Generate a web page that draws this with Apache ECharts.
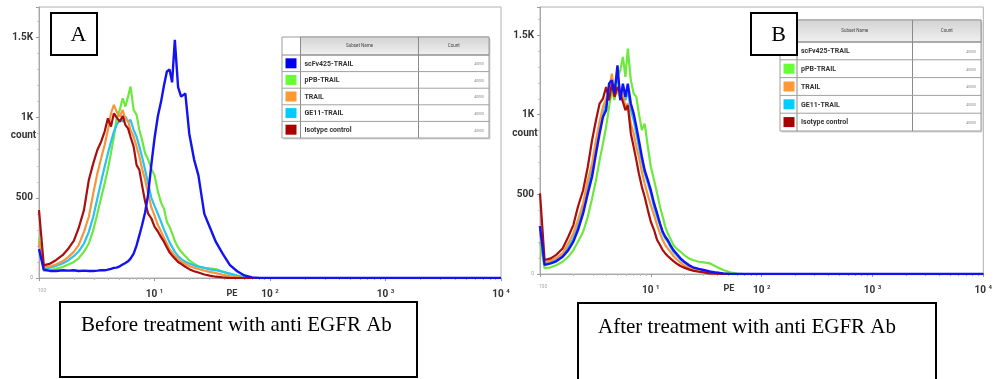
<!DOCTYPE html>
<html>
<head>
<meta charset="utf-8">
<script src="https://cdn.jsdelivr.net/npm/echarts@6/dist/echarts.min.js"></script>
<style>
  html, body { margin: 0; padding: 0; background: #fff; }
  #chart { width: 995px; height: 379px; }
</style>
</head>
<body>
<div id="chart"></div>
<script>
// PE channel (log) bins shared by both histograms
const peBins = [1, 1.1, 1.25, 1.4, 1.6, 1.8, 2, 2.2, 2.45, 2.7,
  2.95, 3.2, 3.45, 3.7, 3.95, 4.2, 4.45, 4.7, 5, 5.3,
  5.6, 5.9, 6.2, 6.6, 7, 7.4, 7.8, 8.3, 8.8, 9.4,
  10, 10.7, 11.4, 12.1, 12.8, 13.5, 14.2, 15, 16, 17,
  18.5, 20, 22, 24, 27, 30, 34, 39, 45, 52,
  60, 70, 82, 95, 10000];

const subsetNames = ['scFv425-TRAIL', 'pPB-TRAIL', 'TRAIL', 'GE11-TRAIL', 'Isotype control'];
const lineColors = ['#1212f2', '#6de83c', '#f6953d', '#28c4f0', '#a90d0d'];
const swatchColors = ['#0000ee', '#66ff33', '#ff9933', '#00ccff', '#aa0000'];
const eventCounts = [40000, 40000, 40000, 40000, 40000];
const yTickText = { 0: '0', 500: '500', 1000: '1K', 1500: '1.5K' };

// A: before treatment with anti EGFR Ab (counts per bin)
const beforeScfv = [180, 52, 44, 44, 48, 46, 48, 44, 46, 44,
  44, 46, 48, 48, 52, 57, 63, 65, 73, 84,
  94, 104, 121, 152, 204, 267, 329, 410, 520, 710,
  870, 1010, 1100, 1204, 1288, 1300, 1220, 1486, 1190, 1131,
  1150, 900, 740, 640, 400, 320, 225, 150, 80, 42,
  16, 4, 0, 0, 0];
const beforePpb = [250, 44, 48, 57, 69, 84, 100, 123, 163, 215,
  298, 400, 500, 590, 680, 780, 880, 996, 1048, 1121,
  1069, 1131, 1194, 1048, 1017, 923, 861, 777, 740, 680,
  640, 540, 470, 430, 350, 320, 280, 230, 190, 165,
  135, 110, 90, 72, 64, 60, 56, 40, 25, 12,
  5, 0, 0, 0, 0];
const beforeTrail = [230, 65, 73, 84, 104, 132, 163, 204, 288, 382,
  527, 652, 746, 829, 923, 1027, 1079, 1038, 1006, 1048,
  990, 981, 923, 881, 819, 756, 683, 611, 527, 440,
  390, 330, 290, 250, 215, 180, 160, 138, 118, 103,
  88, 75, 64, 56, 46, 38, 30, 20, 12, 5,
  0, 0, 0, 0, 0];
const beforeGe11 = [210, 59, 65, 75, 90, 111, 136, 165, 215, 288,
  382, 496, 600, 694, 777, 850, 913, 954, 986, 975,
  1006, 975, 986, 923, 881, 819, 756, 673, 590, 500,
  450, 400, 350, 300, 260, 222, 194, 163, 136, 119,
  102, 90, 79, 71, 63, 54, 48, 38, 27, 15,
  6, 0, 0, 0, 0];
const beforeIso = [423, 79, 90, 111, 142, 184, 232, 309, 423, 611,
  715, 798, 850, 913, 996, 944, 1027, 1002, 975, 1011,
  954, 933, 881, 819, 704, 673, 579, 475, 402, 371,
  320, 290, 255, 225, 190, 160, 140, 122, 100, 88,
  70, 55, 42, 34, 22, 15, 8, 4, 0, 0,
  0, 0, 0, 0, 0];

// B: after treatment with anti EGFR Ab
const afterScfv = [300, 57, 67, 80, 108, 150, 203, 276, 380, 506,
  610, 756, 882, 986, 1028, 1195, 1216, 1133, 1310, 1091,
  1195, 1112, 1195, 1070, 1007, 924, 840, 736, 652, 589,
  526, 443, 380, 317, 265, 234, 213, 182, 150, 129,
  98, 77, 56, 42, 32, 25, 16, 9, 4, 1,
  0, 0, 0, 0, 0];
const afterPpb = [200, 36, 42, 55, 77, 108, 150, 203, 265, 359,
  474, 589, 715, 819, 924, 1049, 1153, 1091, 1237, 1279,
  1363, 1237, 1415, 1216, 1133, 1112, 1007, 903, 944, 798,
  673, 589, 506, 422, 359, 296, 255, 223, 182, 161,
  140, 119, 98, 88, 77, 73, 67, 46, 25, 11,
  2, 0, 0, 0, 0];
const afterTrail = [260, 73, 84, 100, 130, 192, 255, 338, 443, 589,
  694, 840, 955, 1049, 1101, 1153, 1258, 1112, 1153, 1101,
  1133, 1049, 1070, 944, 882, 798, 736, 641, 568, 495,
  432, 370, 307, 255, 213, 182, 161, 140, 113, 94,
  71, 54, 40, 29, 19, 13, 6, 3, 0, 0,
  0, 0, 0, 0, 0];
const afterGe11 = [280, 67, 78, 90, 120, 167, 223, 307, 412, 547,
  652, 798, 913, 1007, 1070, 1174, 1237, 1153, 1258, 1133,
  1174, 1091, 1153, 1028, 965, 882, 798, 704, 631, 568,
  506, 422, 359, 307, 255, 223, 203, 171, 140, 119,
  92, 73, 54, 40, 25, 18, 10, 5, 2, 0,
  0, 0, 0, 0, 0];
const afterIso = [506, 88, 98, 120, 160, 234, 307, 422, 526, 673,
  840, 965, 1070, 1101, 1174, 1091, 1195, 1112, 1174, 1133,
  1080, 1028, 1059, 882, 798, 715, 631, 547, 485, 401,
  328, 276, 213, 182, 150, 129, 113, 98, 81, 67,
  50, 40, 29, 21, 14, 10, 4, 2, 0, 0,
  0, 0, 0, 0, 0];

const beforeSets = [beforeScfv, beforePpb, beforeTrail, beforeGe11, beforeIso];
const afterSets = [afterScfv, afterPpb, afterTrail, afterGe11, afterIso];

const chart = echarts.init(document.getElementById('chart'));

function xAxisFor(gridIndex) {
  return {
    type: 'log', logBase: 10, min: 1, max: 10000, gridIndex: gridIndex,
    axisLine: { show: true, lineStyle: { color: '#a8a8a8', width: 1 } },
    axisTick: { show: true, length: 3, lineStyle: { color: '#999' } },
    minorTick: { show: true, splitNumber: 9, length: 2, lineStyle: { color: '#bbb' } },
    splitLine: { show: false },
    axisLabel: {
      margin: 10,
      formatter: function (v) {
        const e = Math.round(Math.log10(v));
        if (e === 0) return '{t|10' + e + '}';
        return '{b|10 }{s|' + e + '}';
      },
      rich: {
        b: { fontFamily: 'Roboto', fontWeight: 'bold', fontSize: 10, color: '#333', lineHeight: 12 },
        s: { fontFamily: 'Roboto', fontWeight: 'bold', fontSize: 6, color: '#333', verticalAlign: 'top', lineHeight: 12 },
        t: { fontFamily: 'Roboto', fontSize: 5, color: '#aaa', padding: [0, 0, 8, 6] }
      }
    }
  };
}

function yAxisFor(gridIndex, max) {
  return {
    type: 'value', min: 0, max: max, interval: 500, gridIndex: gridIndex,
    axisLine: { show: true, lineStyle: { color: '#a8a8a8', width: 1 } },
    axisTick: { show: true, length: 3, lineStyle: { color: '#999' } },
    minorTick: { show: true, splitNumber: 5, length: 2, lineStyle: { color: '#c4c4c4' } },
    splitLine: { show: false },
    axisLabel: {
      margin: 6,
      formatter: function (v) {
        if (v === 0) return '{z|0}';
        return yTickText[v] ? '{m|' + yTickText[v] + '}' : '';
      },
      rich: {
        m: { fontFamily: 'Roboto', fontWeight: 'bold', fontSize: 10, color: '#333' },
        z: { fontFamily: 'Roboto', fontSize: 5, color: '#999' }
      }
    }
  };
}

function seriesFor(sets, axisIndex) {
  // drawing order: pPB, GE11, TRAIL, isotype, scFv425 on top
  const order = [1, 3, 2, 4, 0];
  return order.map(function (k, j) {
    return {
      type: 'line', name: subsetNames[k],
      xAxisIndex: axisIndex, yAxisIndex: axisIndex,
      data: peBins.map(function (p, i) { return [p, sets[k][i]]; }),
      symbol: 'none', smooth: false, silent: true, z: 2 + j,
      lineStyle: { color: lineColors[k], width: k === 0 ? 2.4 : 2.2 },
      itemStyle: { color: lineColors[k] }
    };
  });
}

function txt(x, y, s, font, align, fill, z) {
  return {
    type: 'text', x: x, y: y, silent: true, z: z || 100,
    style: { text: s, font: font, fill: fill || '#333', textAlign: align || 'left', align: align || 'left',
      textVerticalAlign: 'middle', verticalAlign: 'middle' }
  };
}

function legendTable(t) {
  const els = [];
  const w = t.w1 + t.w2 + t.w3;
  const h = t.headH + t.rowH * subsetNames.length;
  els.push({ type: 'rect', z: 90, silent: true, shape: { x: t.x + 1.5, y: t.y + 1.5, width: w, height: h }, style: { fill: '#d6d6d6' } });
  els.push({ type: 'rect', z: 91, silent: true, shape: { x: t.x, y: t.y, width: w, height: h }, style: { fill: '#fff', stroke: '#9c9c9c', lineWidth: 1 } });
  els.push({
    type: 'rect', z: 92, silent: true,
    shape: { x: t.x + t.w1, y: t.y, width: t.w2 + t.w3, height: t.headH },
    style: {
      fill: new echarts.graphic.LinearGradient(0, 0, 0, 1, [
        { offset: 0, color: '#d2d2d2' }, { offset: 1, color: '#f1f1f1' }]),
      stroke: '#9c9c9c', lineWidth: 1
    }
  });
  els.push({ type: 'line', z: 93, silent: true, shape: { x1: t.x + t.w1, y1: t.y, x2: t.x + t.w1, y2: t.y + h }, style: { stroke: '#8a8a8a', lineWidth: 1 } });
  els.push({ type: 'line', z: 93, silent: true, shape: { x1: t.x + t.w1 + t.w2, y1: t.y, x2: t.x + t.w1 + t.w2, y2: t.y + h }, style: { stroke: '#8a8a8a', lineWidth: 1 } });
  els.push(txt(t.x + t.w1 + t.w2 / 2, t.y + t.headH / 2, 'Subset Name', '4.5px Roboto', 'center', '#444'));
  els.push(txt(t.x + t.w1 + t.w2 + t.w3 / 2, t.y + t.headH / 2, 'Count', '4.5px Roboto', 'center', '#444'));
  subsetNames.forEach(function (name, i) {
    const ry = t.y + t.headH + i * t.rowH;
    els.push({ type: 'line', z: 93, silent: true, shape: { x1: t.x, y1: ry, x2: t.x + w, y2: ry }, style: { stroke: i > 0 ? '#a0a0a0' : '#8a8a8a', lineWidth: 1 } });
    els.push({ type: 'rect', z: 94, silent: true, shape: { x: t.x + 3.5, y: ry + (t.rowH - 10) / 2, width: 11, height: 10 }, style: { fill: swatchColors[i] } });
    els.push(txt(t.x + t.w1 + 4, ry + t.rowH / 2 + 0.5, name, 'bold 7px Roboto', 'left', '#333'));
    els.push(txt(t.x + w - 5, ry + t.rowH / 2 + 1, String(eventCounts[i]), '3.5px Roboto', 'right', '#888'));
  });
  return els;
}

function letterBox(x, y, s) {
  return [
    { type: 'rect', z: 110, silent: true, shape: { x: x, y: y, width: 46, height: 42 }, style: { fill: '#fff', stroke: '#000', lineWidth: 2 } },
    txt(x + 27.5, y + 22, s, '22px "Liberation Serif"', 'center', '#000', 120)
  ];
}

const graphics = []
  .concat(legendTable({ x: 282, y: 37, w1: 18.5, w2: 118, w3: 70.5, headH: 18, rowH: 16.6 }))
  .concat(legendTable({ x: 780, y: 20, w1: 17, w2: 115.5, w3: 68.5, headH: 22, rowH: 17.8 }))
  .concat(letterBox(51, 13, 'A'))
  .concat(letterBox(751, 13, 'B'))
  .concat([
    txt(23.5, 135, 'count', 'bold 10px Roboto', 'center'),
    txt(525, 133, 'count', 'bold 10px Roboto', 'center'),
    txt(232, 294, 'PE', 'bold 9px Roboto', 'center'),
    txt(729, 289, 'PE', 'bold 9px Roboto', 'center'),
    { type: 'rect', z: 100, silent: true, shape: { x: 60, y: 302, width: 357, height: 75 }, style: { fill: 'none', stroke: '#000', lineWidth: 2 } },
    { type: 'rect', z: 100, silent: true, shape: { x: 578, y: 303, width: 358, height: 80 }, style: { fill: 'none', stroke: '#000', lineWidth: 2 } },
    txt(81, 325, 'Before treatment with anti EGFR Ab', '21px "Liberation Serif"', 'left', '#000'),
    txt(598, 327, 'After treatment with anti EGFR Ab', '21px "Liberation Serif"', 'left', '#000')
  ]);

chart.setOption({
  animation: false,
  backgroundColor: '#fff',
  grid: [
    { left: 39, top: 7, width: 462, height: 271, show: true, borderColor: '#b0b0b0', borderWidth: 1, containLabel: false },
    { left: 540, top: 7, width: 457, height: 267, show: true, borderColor: '#b0b0b0', borderWidth: 1, containLabel: false }
  ],
  xAxis: [xAxisFor(0), xAxisFor(1)],
  yAxis: [yAxisFor(0, 1690), yAxisFor(1, 1676)],
  series: seriesFor(beforeSets, 0).concat(seriesFor(afterSets, 1)),
  graphic: { elements: graphics }
});
</script>
</body>
</html>
